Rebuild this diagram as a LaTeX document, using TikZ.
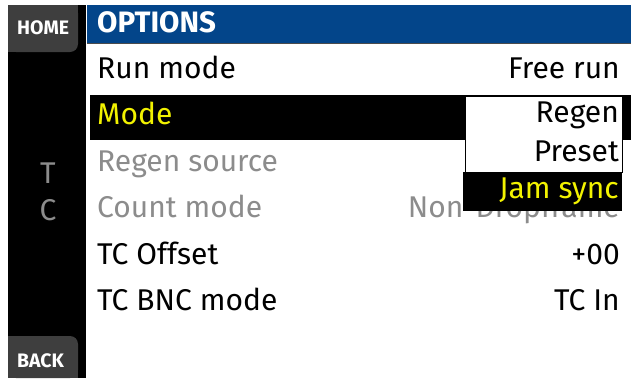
\documentclass[tikz,border=0pt]{standalone}
\usepackage{fontspec}
\setmainfont{Fira Sans}
\definecolor{titleblue}{HTML}{03458A}
\definecolor{tabgray}{HTML}{3E3E3E}
\definecolor{dimgray}{HTML}{8C8C8C}
\definecolor{selyellow}{HTML}{F2F200}
\begin{document}
\begin{tikzpicture}[x=1pt,y=-1pt,
    rowfont/.style={font=\fontsize{30}{30}\selectfont},
    rowlabel/.style={rowfont,anchor=base west},
    rowvalue/.style={rowfont,anchor=base east},
    tabtext/.style={font=\fontsize{19.5}{19.5}\selectfont\bfseries,text=white,anchor=base west}]
\useasboundingbox (0,0) rectangle (631,378);

  % side bar and tabs
  \fill[black] (8,5) rectangle (86,378);
  \fill[tabgray,rounded corners=8pt] (8,5) rectangle (78,52);
  \fill[tabgray] (8,5) rectangle (70,52);
  \fill[tabgray] (8,5) rectangle (78,44);
  \fill[tabgray,rounded corners=8pt] (8,336) rectangle (78,378);
  \fill[tabgray] (8,344) rectangle (78,378);
  \fill[tabgray] (8,336) rectangle (70,378);

  % title bar and selected row
  \fill[titleblue] (87,5) rectangle (631,43);
  \draw[black!70,line width=1pt] (87,43.5) -- (631,43.5);
  \fill[black] (90,94.5) rectangle (631,140);

  \begin{scope}[inner sep=0pt]
    \node[tabtext] (home) at (17,34) {HOME};
    \node[tabtext] (back) at (17,367) {BACK};
    \node[font=\fontsize{29.5}{29.5}\selectfont\bfseries,text=white,anchor=base west] (options) at (97,32) {OPTIONS};

    \node[rowfont,text=dimgray,anchor=base] (t) at (48,183) {T};
    \node[rowfont,text=dimgray,anchor=base] (c) at (48,220) {C};

    \node[rowlabel] (runmode)  at (97,78)  {Run mode};
    \node[rowlabel,text=selyellow] (mode) at (97,124) {Mode};
    \node[rowlabel,text=dimgray] (regensrc) at (97,171) {Regen source};
    \node[rowlabel,text=dimgray] (countmode) at (97,217) {Count mode};
    \node[rowlabel] (offset)   at (97,264) {TC Offset};
    \node[rowlabel] (bncmode)  at (97,310) {TC BNC mode};

    \node[rowvalue] (freerun)  at (620,78)  {Free run};
    \node[rowvalue,text=dimgray] (nondrop) at (620,217) {Non-Dropframe};
    \node[rowvalue] (plus)     at (620,264) {+00};
    \node[rowvalue] (tcin)     at (620,310) {TC In};
  \end{scope}

  % drop down list
  \filldraw[fill=white,draw=black,line width=0.8pt] (465,96) rectangle (622,172);
  \fill[black] (463,172) rectangle (622,211);

  \begin{scope}[inner sep=0pt]
    \node[rowvalue] (regen)   at (619,122) {Regen};
    \node[rowvalue] (preset)  at (619,161) {Preset};
    \node[rowvalue,text=selyellow] (jamsync) at (619,198) {Jam sync};
  \end{scope}

\end{tikzpicture}
\end{document}
